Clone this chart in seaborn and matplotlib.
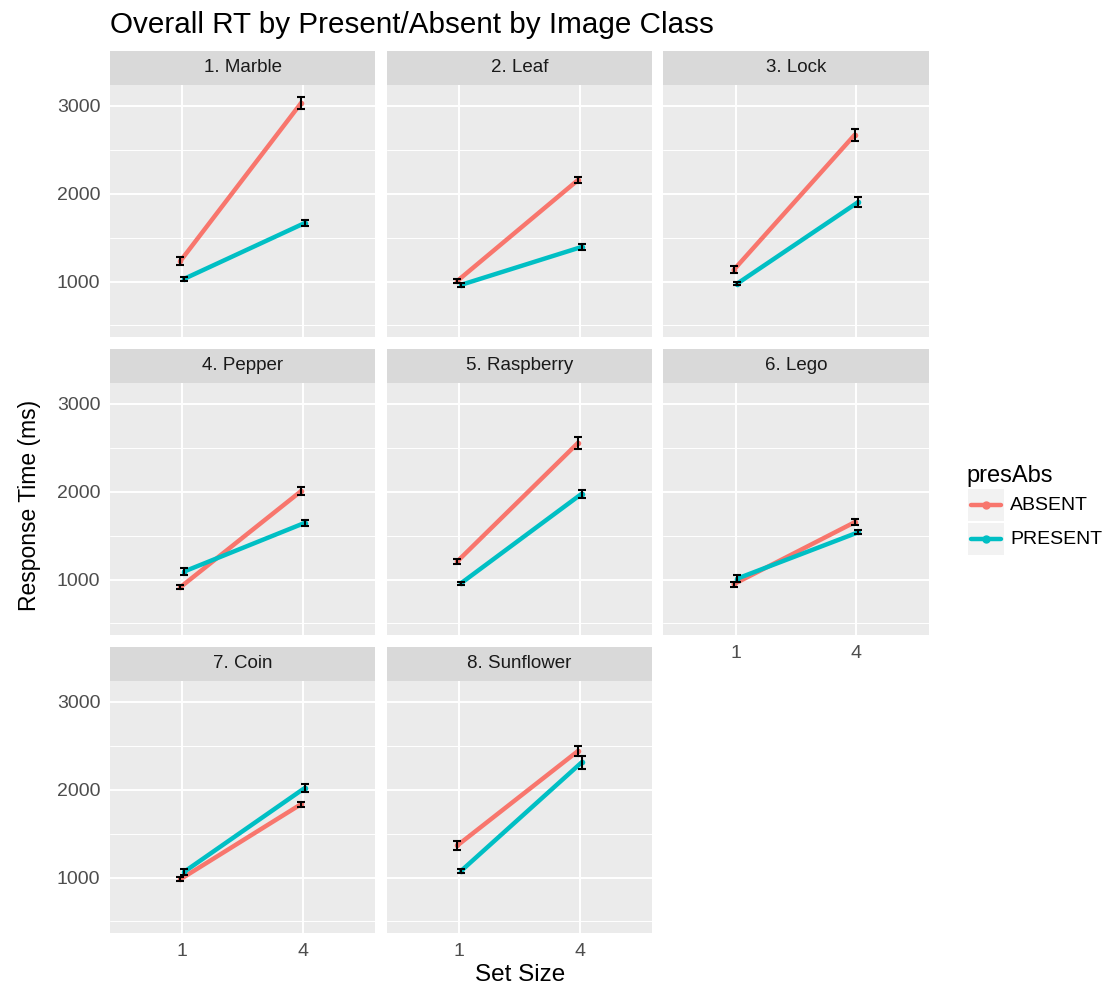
import numpy as np
import pandas as pd
import matplotlib
matplotlib.use("Agg")
import matplotlib.pyplot as plt
import seaborn as sns
from matplotlib.patches import Rectangle
from matplotlib.lines import Line2D

# ---------------- data ----------------
classes = ["1. Marble", "2. Leaf", "3. Lock", "4. Pepper",
           "5. Raspberry", "6. Lego", "7. Coin", "8. Sunflower"]
set_sizes = ["1", "4"]
groups = ["ABSENT", "PRESENT"]

absent_rt = [[1234, 3030], [1008, 2155], [1132, 2670], [913, 2005],
             [1208, 2555], [947, 1652], [981, 1834], [1366, 2440]]
present_rt = [[1030, 1665], [962, 1393], [977, 1905], [1091, 1644],
              [958, 1975], [1011, 1538], [1064, 2018], [1075, 2310]]
absent_se = [[42, 70], [25, 37], [40, 70], [25, 45],
             [30, 70], [30, 35], [25, 30], [55, 60]]
present_se = [[26, 34], [25, 35], [22, 60], [40, 35],
              [18, 50], [40, 25], [30, 45], [25, 70]]

palette = {"ABSENT": "#F8766D", "PRESENT": "#00BFC4"}
dodge = {"ABSENT": -0.015, "PRESENT": 0.015}

records = []
for i, cls in enumerate(classes):
    for g, vals, ses in (("ABSENT", absent_rt, absent_se), ("PRESENT", present_rt, present_se)):
        for j, ss in enumerate(set_sizes):
            records.append(dict(cls=cls, setSize=ss, pos=j + dodge[g],
                                rt=vals[i][j], se=ses[i][j], presAbs=g))
df = pd.DataFrame(records)

# ---------------- style ----------------
sns.set_style("darkgrid", {"axes.facecolor": "#EBEBEB", "grid.color": "white"})
plt.rcParams["font.family"] = ["Liberation Sans", "DejaVu Sans"]

W, H = 1120, 988
fig = plt.figure(figsize=(W / 100, H / 100), dpi=100)
fig.patch.set_facecolor("white")


def box(l, t, r, b):
    return [l / W, 1 - b / H, (r - l) / W, (b - t) / H]


cols = [(110, 375), (387, 652), (663, 929)]
rows = [(51, 85, 337), (349, 383, 635), (647, 681, 933)]

for k, cls in enumerate(classes):
    r, c = divmod(k, 3)
    l, rr = cols[c]
    st, pt, pb = rows[r]
    # strip
    sax = fig.add_axes(box(l, st, rr, pt))
    sax.set_facecolor("#D9D9D9")
    sax.set_xticks([]); sax.set_yticks([])
    for s in sax.spines.values():
        s.set_visible(False)
    sax.grid(False)
    sax.text(0.5, 0.5, cls, ha="center", va="center", fontsize=13.5, color="#1A1A1A",
             transform=sax.transAxes)

    ax = fig.add_axes(box(l, pt, rr, pb))
    sub = df[df.cls == cls]
    sns.lineplot(data=sub, x="pos", y="rt", hue="presAbs", hue_order=groups,
                 palette=palette, linewidth=3.2, marker="o", markersize=4,
                 markeredgewidth=0, legend=False, errorbar=None, ax=ax, zorder=3)
    for g in groups:
        gd = sub[sub.presAbs == g]
        ax.errorbar(gd.pos, gd.rt, yerr=gd.se, fmt="none", ecolor="black",
                    elinewidth=1.5, capsize=2.8, capthick=1.5, zorder=4)
    ax.set_xlim(-0.6, 1.6)
    ax.set_ylim(368, 3238)
    ax.set_xticks([0, 1])
    ax.set_xticklabels(set_sizes)
    ax.set_yticks([1000, 2000, 3000])
    ax.set_yticks([500, 1500, 2500], minor=True)
    ax.grid(False)
    ax.grid(which="major", color="white", lw=1.4)
    ax.grid(which="minor", axis="y", color="white", lw=0.7)
    ax.set_axisbelow(True)
    for s in ax.spines.values():
        s.set_visible(False)
    ax.set_xlabel(""); ax.set_ylabel("")
    ax.tick_params(which="minor", length=0)
    ax.tick_params(which="major", length=4, width=1.1, color="#333333",
                   labelsize=14, labelcolor="#4D4D4D", pad=3)
    if c != 0:
        ax.tick_params(axis="y", which="major", length=0, labelleft=False)
    bottom = (r == 2) or (r == 1 and c == 2)
    if not bottom:
        ax.tick_params(axis="x", which="major", length=0, labelbottom=False)

# titles
fig.text(110 / W, 1 - 33 / H, "Overall RT by Present/Absent by Image Class",
         fontsize=21.3, ha="left", va="baseline", color="black")
fig.text(30 / W, 1 - 505 / H, "Response Time (ms)", rotation=90,
         ha="center", va="center", fontsize=16.5, color="black")
fig.text(520 / W, 1 - 975 / H, "Set Size", ha="center", va="center",
         fontsize=17.5, color="black")

# legend
fig.text(966 / W, 1 - 482 / H, "presAbs", fontsize=17, ha="left",
         va="baseline", color="black")
for i, g in enumerate(groups):
    top = 489 + i * 34
    cy = top + 16
    fig.patches.append(Rectangle((968 / W, 1 - (top + 32) / H), 36 / W, 32 / H,
                                 transform=fig.transFigure, facecolor="#F2F2F2",
                                 edgecolor="none"))
    fig.lines.append(Line2D([971 / W, 1001 / W], [1 - cy / H] * 2,
                            transform=fig.transFigure, color=palette[g], lw=3.2))
    fig.lines.append(Line2D([986 / W], [1 - cy / H], transform=fig.transFigure,
                            color=palette[g], marker="o", markersize=5, lw=0))
    fig.text(1010 / W, 1 - cy / H, g, fontsize=14, ha="left", va="center",
             color="black")

fig.savefig("out.png", dpi=100, facecolor="white")
